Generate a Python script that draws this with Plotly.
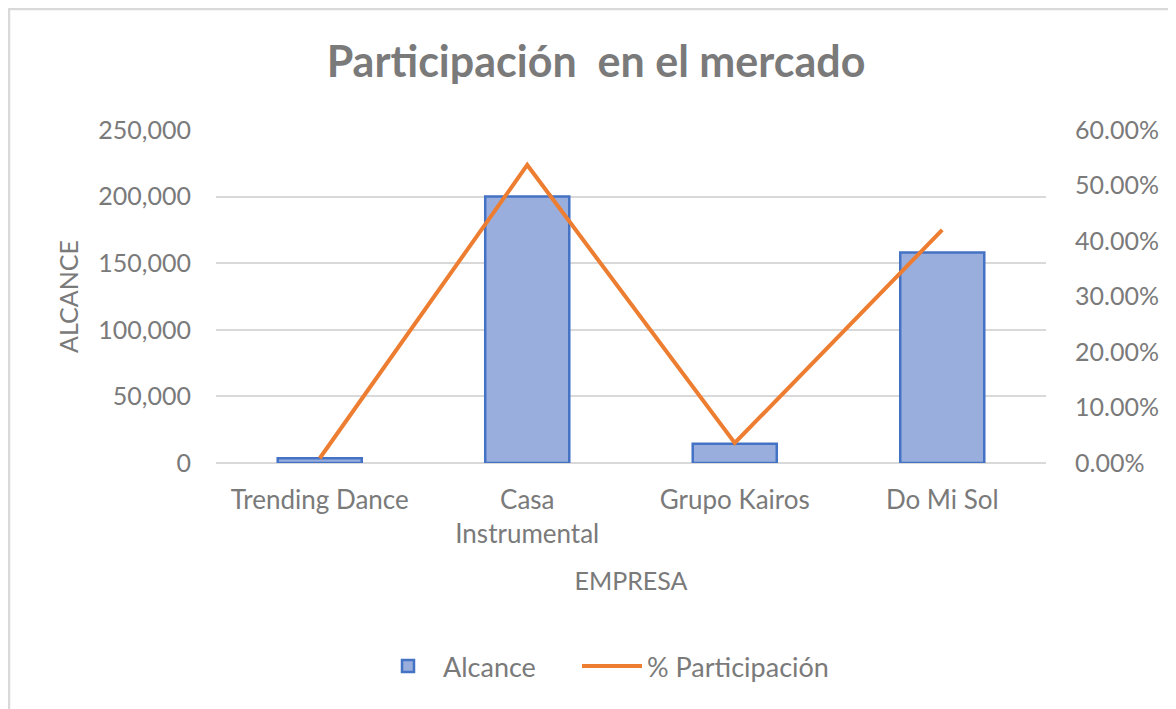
import plotly.graph_objects as go

empresas = ["Trending Dance", "Casa Instrumental", "Grupo Kairos", "Do Mi Sol"]
etiquetas = ["Trending Dance", "Casa<br>Instrumental", "Grupo Kairos", "Do Mi Sol"]
alcance = [3500, 200000, 14500, 158000]
participacion = [0.0085, 0.537, 0.036, 0.42]
ticks_izq = [0, 50000, 100000, 150000, 200000, 250000]
ticks_der = [0, 0.1, 0.2, 0.3, 0.4, 0.5, 0.6]

OFF = 8  # page body margin
W, H = 1176 - OFF, 709 - OFF
L = 216 - OFF
T = 130 - OFF
R = W - (1046 - OFF)
B = H - (462.7 - OFF)
pw, ph = W - L - R, H - T - B

def px_x(page_x):
    return (page_x - OFF - L) / pw

def px_y(page_y):
    return (H - B - (page_y - OFF)) / ph

gray = "#7a7a7a"
font = "Lato"

fig = go.Figure()
fig.add_trace(go.Bar(
    x=empresas, y=alcance, name="Alcance",
    marker=dict(color="#9aaedd", line=dict(color="#4472c4", width=2.5)),
    width=0.405, legend="legend",
))
fig.add_trace(go.Scatter(
    x=empresas, y=participacion, name="% Participación", yaxis="y2",
    mode="lines", line=dict(color="#ed7d31", width=4), legend="legend2",
))

legend_common = dict(orientation="h", xanchor="left", y=px_y(666), yanchor="middle",
                     font=dict(size=27, color=gray), itemwidth=60,
                     bgcolor="rgba(0,0,0,0)")

fig.update_layout(
    width=W, height=H,
    margin=dict(l=L, r=R, t=T, b=B),
    paper_bgcolor="white", plot_bgcolor="white",
    font=dict(family=font, color=gray, size=25),
    title=dict(text="<b>Participación  en el mercado</b>", x=(596 - OFF) / W, xanchor="center",
               y=1 - (62 - OFF) / H, yanchor="middle", yref="container",
               font=dict(size=43, color=gray, family=font)),
    xaxis=dict(tickmode="array", tickvals=empresas, ticktext=etiquetas,
               showgrid=False, showline=False, ticks="", ticklabelstandoff=19,
               tickfont=dict(size=26, color=gray),
               title=dict(text="EMPRESA", font=dict(size=25, color=gray), standoff=24)),
    yaxis=dict(range=[0, 250000], tickvals=ticks_izq, tickformat=",",
               showgrid=True, gridcolor="#d9d9d9", gridwidth=1.5,
               zeroline=True, zerolinecolor="#d9d9d9", zerolinewidth=2,
               showline=False, ticks="", ticklabelstandoff=24,
               tickfont=dict(size=25, color=gray),
               title=dict(text="ALCANCE", font=dict(size=25, color=gray), standoff=12)),
    yaxis2=dict(range=[0, 0.6], tickvals=ticks_der, tickformat=".2%",
                overlaying="y", side="right", showgrid=False, zeroline=False,
                showline=False, ticks="", ticklabelstandoff=28,
                tickfont=dict(size=25, color=gray)),
    legend=dict(x=px_x(373), **legend_common),
    legend2=dict(x=px_x(577), **legend_common),
    showlegend=True,
)

fig.add_shape(type="line", xref="paper", yref="paper",
              x0=px_x(OFF), x1=px_x(1176), y0=px_y(OFF + 1), y1=px_y(OFF + 1),
              line=dict(color="#d9d9d9", width=2.5), layer="below")
fig.add_shape(type="line", xref="paper", yref="paper",
              x0=px_x(OFF + 1), x1=px_x(OFF + 1), y0=px_y(OFF), y1=px_y(709),
              line=dict(color="#d9d9d9", width=2.5), layer="below")

fig.write_html("out.html")
